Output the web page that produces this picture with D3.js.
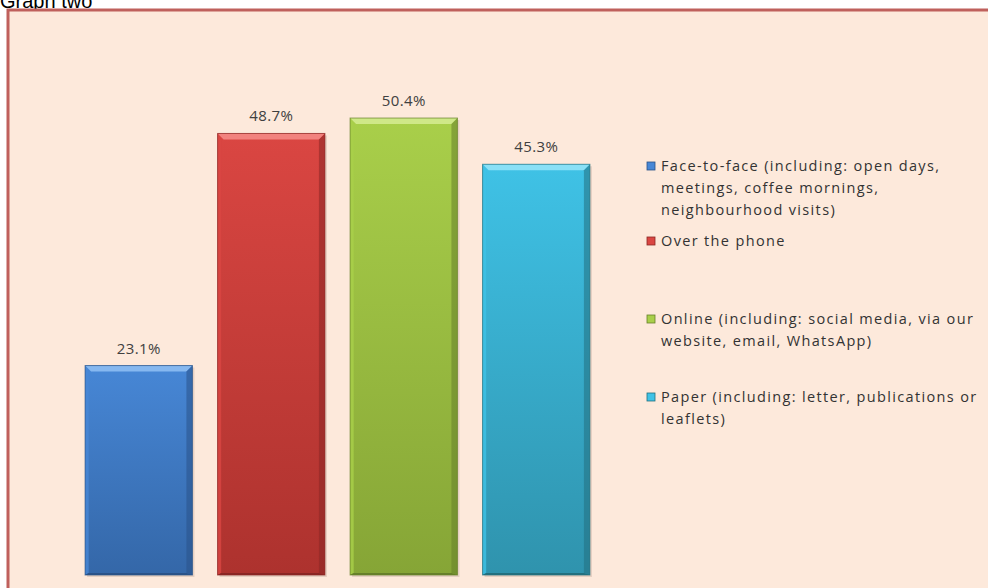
<!DOCTYPE html>
<html>
<head>
<meta charset="utf-8">
<script src="https://cdn.jsdelivr.net/npm/d3@7"></script>
<style>
  body { margin: 0; background: #fff; overflow: hidden; }
  svg { display: block; }
</style>
</head>
<body>
<svg width="988" height="588"></svg>
<script>
// values
const categories = ["Face-to-face", "Over the phone", "Online", "Paper"];
const values = [23.1, 48.7, 50.4, 45.3];
const legendLines = [
    ["Face-to-face (including: open days,", "meetings, coffee mornings,", "neighbourhood visits)"],
    ["Over the phone"],
    ["Online (including: social media, via our", "website, email, WhatsApp)"],
    ["Paper (including: letter, publications or", "leaflets)"]
];
const legendTop = [166, 241, 319, 397];

// colours: [light bevel, top of body, bottom of body, dark edge]
const palette = [
    ["#86b8f0", "#4787d6", "#3467a8", "#2a5288"],
    ["#f2827e", "#da4642", "#ad322e", "#8a2624"],
    ["#cfe888", "#a9cf4a", "#86a536", "#66802a"],
    ["#8ae0f6", "#3fc2e6", "#2f93ad", "#22707f"]
];

const svg = d3.select("svg");
const font = "'Open Sans', Lato, sans-serif";

// title, partly cut off at the top
svg.append("text")
    .attr("x", 0)
    .attr("y", 8)
    .style("font-family", "'Liberation Sans', Arial, sans-serif")
    .style("font-size", "20px")
    .style("fill", "#000")
    .text("Graph two");

// chart frame
svg.append("rect")
    .attr("x", 8)
    .attr("y", 10)
    .attr("width", 1000)
    .attr("height", 600)
    .style("fill", "#fde9db")
    .style("stroke", "#bf605c")
    .style("stroke-width", 3);

const defs = svg.append("defs");
palette.forEach((p, i) => {
    const g = defs.append("linearGradient")
        .attr("id", "body" + i)
        .attr("x1", 0).attr("y1", 0).attr("x2", 0).attr("y2", 1);
    g.append("stop").attr("offset", "0%").attr("stop-color", p[1]);
    g.append("stop").attr("offset", "100%").attr("stop-color", p[2]);
});

const scX = d3.scaleBand()
    .domain(categories)
    .range([72.5, 602.5])
    .paddingInner(0.19)
    .paddingOuter(0.095);

const scY = d3.scaleLinear()
    .domain([0, 60])
    .range([575, 31]);

const data = categories.map((c, i) => ({ cat: c, value: values[i], idx: i }));
const bw = scX.bandwidth();
const bev = 6;

const bars = svg.selectAll(".bar")
    .data(data)
    .enter()
    .append("g")
    .attr("class", "bar");

// soft shadow
bars.append("rect")
    .attr("x", d => scX(d.cat) + 2)
    .attr("y", d => scY(d.value) + 2)
    .attr("width", bw)
    .attr("height", d => scY(0) - scY(d.value))
    .style("fill", "rgba(120,90,80,0.18)");

// body
bars.append("rect")
    .attr("x", d => scX(d.cat))
    .attr("y", d => scY(d.value))
    .attr("width", bw)
    .attr("height", d => scY(0) - scY(d.value))
    .style("fill", d => `url(#body${d.idx})`);

// bevel edges
bars.append("polygon")
    .attr("points", d => {
        const x = scX(d.cat), y = scY(d.value);
        return [[x, y], [x + bw, y], [x + bw - bev, y + bev], [x + bev, y + bev]].join(" ");
    })
    .style("fill", d => palette[d.idx][0]);

bars.append("polygon")
    .attr("points", d => {
        const x = scX(d.cat), y = scY(d.value), y0 = scY(0);
        return [[x, y], [x + bev * 0.6, y + bev], [x + bev * 0.6, y0 - 2], [x, y0]].join(" ");
    })
    .style("fill", d => palette[d.idx][1])
    .style("opacity", 0.8);

bars.append("polygon")
    .attr("points", d => {
        const x = scX(d.cat) + bw, y = scY(d.value), y0 = scY(0);
        return [[x, y], [x - bev, y + bev], [x - bev, y0 - 2], [x, y0]].join(" ");
    })
    .style("fill", d => palette[d.idx][3])
    .style("opacity", 0.55);

bars.append("polygon")
    .attr("points", d => {
        const x = scX(d.cat), y0 = scY(0);
        return [[x, y0], [x + bev * 0.6, y0 - 2], [x + bw - bev, y0 - 2], [x + bw, y0]].join(" ");
    })
    .style("fill", d => palette[d.idx][3]);

bars.append("rect")
    .attr("x", d => scX(d.cat))
    .attr("y", d => scY(d.value))
    .attr("width", bw)
    .attr("height", d => scY(0) - scY(d.value))
    .style("fill", "none")
    .style("stroke", d => palette[d.idx][3])
    .style("stroke-width", 1)
    .style("stroke-opacity", 0.7);

// value labels
svg.selectAll(".val")
    .data(data)
    .enter()
    .append("text")
    .attr("class", "val")
    .attr("x", d => scX(d.cat) + bw / 2)
    .attr("y", d => scY(d.value) - 12)
    .attr("text-anchor", "middle")
    .style("font-family", font)
    .style("font-size", "15px")
    .style("letter-spacing", "0.4px")
    .style("fill", "#404040")
    .text(d => d3.format(".1f")(d.value) + "%");

// legend
const legend = svg.selectAll(".leg")
    .data(data)
    .enter()
    .append("g")
    .attr("class", "leg");

legend.append("rect")
    .attr("x", 647)
    .attr("y", d => legendTop[d.idx] - 4)
    .attr("width", 8)
    .attr("height", 8)
    .style("fill", d => palette[d.idx][1])
    .style("stroke", d => palette[d.idx][3])
    .style("stroke-width", 0.8);

legend.append("text")
    .attr("x", 661)
    .attr("y", d => legendTop[d.idx] + 5)
    .style("font-family", font)
    .style("font-size", "14.5px")
    .style("letter-spacing", "1.35px")
    .style("fill", "#333")
    .selectAll("tspan")
    .data(d => legendLines[d.idx])
    .enter()
    .append("tspan")
    .attr("x", 661)
    .attr("dy", (d, i) => i === 0 ? 0 : 22)
    .text(d => d);
</script>
</body>
</html>
